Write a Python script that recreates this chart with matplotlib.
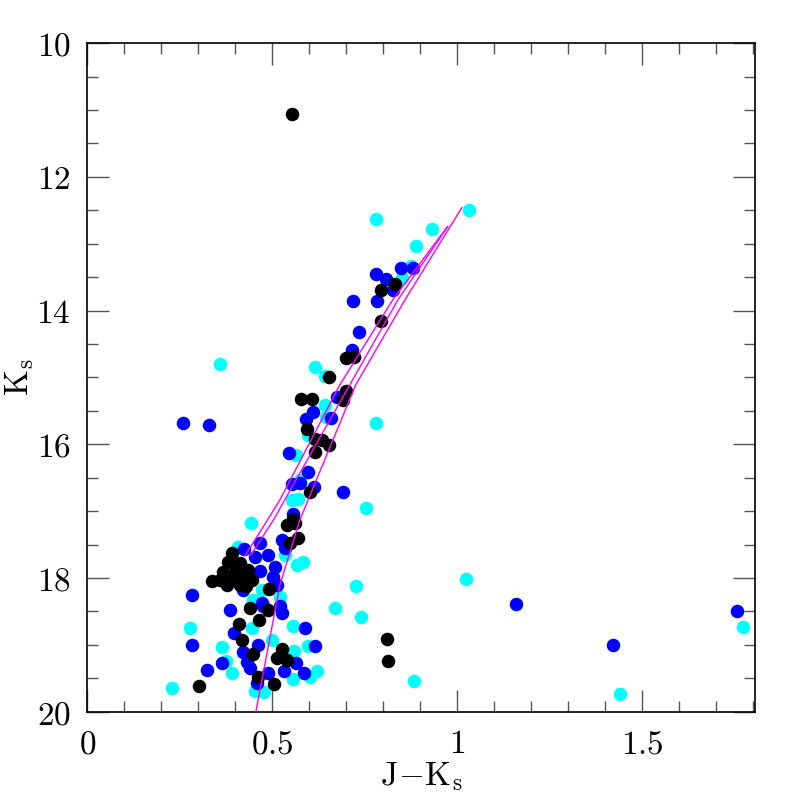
import numpy as np
import matplotlib.pyplot as plt
from matplotlib.ticker import MultipleLocator, FuncFormatter

plt.rcParams['mathtext.fontset'] = 'cm'
plt.rcParams['font.family'] = 'serif'

# J-Ks, Ks for the three samples
cyan_jk = [1.032, 0.932, 0.888, 0.875, 0.850, 0.780, 0.615, 0.643, 0.643, 0.645,
           0.596, 0.780, 0.564, 0.575, 0.553, 0.570, 0.753, 0.442, 0.534, 0.567,
           0.583, 0.408, 0.472, 0.448, 0.521, 0.670, 0.445, 0.556, 0.278, 0.364,
           0.596, 0.500, 0.559, 0.375, 0.391, 0.621, 0.602, 0.556, 0.454, 0.477,
           0.230, 0.359, 1.024, 0.726, 0.740, 0.883, 1.440, 1.772]
cyan_k = [12.49, 12.78, 13.04, 13.33, 13.51, 12.63, 14.84, 14.98, 15.41, 15.59,
          15.86, 15.68, 16.16, 16.53, 16.83, 16.82, 16.95, 17.18, 17.66, 17.81,
          17.76, 17.54, 18.18, 18.33, 18.28, 18.45, 18.75, 18.72, 18.75, 19.03,
          19.02, 18.93, 19.09, 19.24, 19.42, 19.39, 19.48, 19.51, 19.69, 19.71,
          19.64, 14.80, 18.01, 18.12, 18.58, 19.54, 19.74, 18.73]

blue_jk = [0.848, 0.880, 0.781, 0.807, 0.826, 0.718, 0.783, 0.734, 0.715, 0.675,
           0.610, 0.591, 0.659, 0.545, 0.596, 0.575, 0.553, 0.612, 0.691, 0.556,
           0.527, 0.534, 0.467, 0.424, 0.488, 0.454, 0.507, 0.467, 0.502, 0.512,
           0.421, 0.284, 0.386, 0.475, 0.521, 0.526, 0.588, 0.397, 0.615, 0.284,
           0.421, 0.461, 0.564, 0.364, 0.432, 0.440, 0.323, 0.488, 0.531, 0.586,
           0.459, 0.259, 0.329, 1.159, 1.421, 1.756, 0.472]
blue_k = [13.36, 13.36, 13.45, 13.53, 13.69, 13.85, 13.85, 14.32, 14.59, 15.29,
          15.52, 15.62, 15.61, 16.13, 16.41, 16.58, 16.59, 16.64, 16.71, 17.04,
          17.43, 17.55, 17.48, 17.57, 17.66, 17.69, 17.84, 17.90, 17.98, 18.10,
          18.18, 18.25, 18.48, 18.42, 18.42, 18.52, 18.75, 18.82, 19.02, 19.00,
          19.11, 19.00, 19.27, 19.27, 19.26, 19.35, 19.37, 19.42, 19.39, 19.42,
          19.57, 15.68, 15.71, 18.39, 19.00, 18.49, 18.37]

black_jk = [0.553, 0.832, 0.794, 0.794, 0.699, 0.721, 0.653, 0.699, 0.691, 0.578,
            0.607, 0.593, 0.615, 0.636, 0.653, 0.615, 0.601, 0.556, 0.540, 0.561,
            0.569, 0.548, 0.391, 0.367, 0.337, 0.413, 0.434, 0.445, 0.413, 0.378,
            0.394, 0.421, 0.359, 0.491, 0.440, 0.488, 0.464, 0.410, 0.418, 0.448,
            0.526, 0.513, 0.540, 0.461, 0.505, 0.302, 0.810, 0.812, 0.402, 0.381,
            0.430]
black_k = [11.06, 13.60, 13.69, 14.15, 14.71, 14.69, 14.99, 15.20, 15.34, 15.32,
           15.32, 15.77, 15.92, 15.93, 16.01, 16.11, 16.71, 17.12, 17.21, 17.18,
           17.40, 17.48, 17.63, 17.91, 18.04, 17.78, 17.88, 18.03, 18.10, 18.10,
           17.98, 17.95, 18.03, 18.16, 18.45, 18.48, 18.63, 18.69, 18.93, 19.14,
           19.06, 19.20, 19.23, 19.48, 19.59, 19.61, 18.91, 19.24, 17.86, 17.76,
           18.12]

# isochrones
iso_a_jk = [0.456, 0.521, 0.575, 0.726, 0.859, 1.013]
iso_a_k = [20.0, 18.10, 17.13, 15.11, 13.84, 12.46]
iso_b_jk = [0.426, 0.491, 0.521, 0.683, 0.826, 0.972]
iso_b_k = [17.67, 17.10, 16.83, 15.11, 13.84, 12.76]
iso_c_jk = [0.442, 0.507, 0.534, 0.710, 0.840, 0.975]
iso_c_k = [17.66, 17.10, 16.83, 15.11, 13.84, 12.74]

fig = plt.figure(figsize=(7.97, 7.97), dpi=100)
ax = fig.add_axes([0.1095, 0.107, 0.8375, 0.8388])

ms = 95
ax.scatter(cyan_jk, cyan_k, s=ms, c='#00ffff', lw=0, zorder=2)
ax.scatter(blue_jk, blue_k, s=ms, c='#0000ff', lw=0, zorder=3)
ax.scatter(black_jk, black_k, s=ms, c='black', lw=0, zorder=4)

for xs, ys in [(iso_a_jk, iso_a_k), (iso_b_jk, iso_b_k), (iso_c_jk, iso_c_k)]:
    ax.plot(xs, ys, color='#ff00ff', lw=1.0, zorder=5)

ax.set_xlim(0, 1.805)
ax.set_ylim(20, 10)

ax.xaxis.set_major_locator(MultipleLocator(0.5))
ax.xaxis.set_minor_locator(MultipleLocator(0.1))
ax.yaxis.set_major_locator(MultipleLocator(2))
ax.yaxis.set_minor_locator(MultipleLocator(0.5))
fmt = FuncFormatter(lambda v, p: '$%g$' % v)
ax.xaxis.set_major_formatter(fmt)
ax.yaxis.set_major_formatter(fmt)

ax.tick_params(which='both', direction='in', top=True, right=True, colors='#555555',
               labelcolor='black', width=1.0)
ax.tick_params(which='major', length=16, pad=12, labelsize=24)
ax.tick_params(which='minor', length=8)
for s in ax.spines.values():
    s.set_linewidth(1.2)

ax.set_xlabel(r'$\mathrm{J\!-\!K_s}$', fontsize=24, labelpad=0)
ax.set_ylabel(r'$\mathrm{K_s}$', fontsize=24, labelpad=0)

fig.savefig('out.png', dpi=100)
